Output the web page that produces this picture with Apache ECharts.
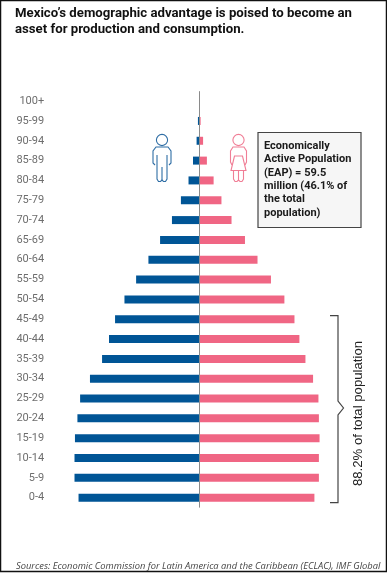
<!DOCTYPE html>
<html>
<head>
<meta charset="utf-8">
<title>Mexico population pyramid</title>
<script src="https://cdn.jsdelivr.net/npm/echarts@6/dist/echarts.min.js"></script>
<style>
html,body{margin:0;padding:0;background:#fff;}
#main{width:387px;height:573px;}
</style>
</head>
<body>
<div id="main"></div>
<script>
// age groups, youngest first (category axis draws from the bottom up)
var ageGroups=["0-4","5-9","10-14","15-19","20-24","25-29","30-34","35-39","40-44","45-49","50-54","55-59","60-64","65-69","70-74","75-79","80-84","85-89","90-94","95-99","100+"];
// population in millions
var maleValues=[5.40,5.58,5.58,5.56,5.45,5.33,4.89,4.35,4.04,3.77,3.35,2.83,2.28,1.76,1.23,0.83,0.49,0.29,0.13,0.07,0.01];
var femaleValues=[5.13,5.33,5.33,5.36,5.33,5.31,5.07,4.73,4.46,4.24,3.79,3.19,2.59,2.03,1.43,0.98,0.63,0.33,0.16,0.05,0.01];

var titleLines=["Mexico\u2019s demographic advantage is poised to become an","asset for production and consumption."];
var boxLines=["Economically","Active Population","(EAP) = 59.5","million (46.1% of","the total","population)"];
var bracketText="88.2% of total population";
var sourceText="Sources: Economic Commission for Latin America and the Caribbean (ECLAC), IMF Global";

var blue="#005596";
var pink="#f06684";
var titleFont='"Roboto"';

var chart=echarts.init(document.getElementById("main"));

var graphics=[];
// outer frame
graphics.push({type:"rect",shape:{x:0.5,y:0.5,width:386,height:571},style:{fill:"none",stroke:"#111",lineWidth:1.5}});
// title
for(var i=0;i<titleLines.length;i++){
	graphics.push({type:"text",x:15,y:7+i*16,style:{text:titleLines[i],fill:"#111",font:'bold 13.2px '+titleFont}});
}
// male icon
var maleStroke="#2f6ea5";
graphics.push({type:"circle",shape:{cx:162,cy:140,r:5.6},style:{fill:"none",stroke:maleStroke,lineWidth:1.1}});
graphics.push({type:"polyline",shape:{points:[[155,165],[153,163],[153,151],[156,147],[168,147],[171,151],[171,163],[169,165]]},style:{fill:"none",stroke:maleStroke,lineWidth:1.1}});
graphics.push({type:"polyline",shape:{points:[[157,155],[157,179],[158.5,181.5],[160.5,181.5],[162,180],[163.5,181.5],[165.5,181.5],[167,179],[167,155]]},style:{fill:"none",stroke:maleStroke,lineWidth:1.1}});
graphics.push({type:"line",shape:{x1:162,y1:167,x2:162,y2:180},style:{stroke:maleStroke,lineWidth:1.1}});
// female icon
var femaleStroke="#f07e96";
graphics.push({type:"circle",shape:{cx:238.5,cy:140,r:5.6},style:{fill:"none",stroke:femaleStroke,lineWidth:1.1}});
graphics.push({type:"polyline",shape:{points:[[232,165],[230.5,162],[230.5,151],[233,147],[244,147],[246.5,151],[246.5,162],[245,165]]},style:{fill:"none",stroke:femaleStroke,lineWidth:1.1}});
graphics.push({type:"polygon",shape:{points:[[234.5,156],[231,170.5],[246,170.5],[242.5,156]]},style:{fill:"none",stroke:femaleStroke,lineWidth:1.1}});
graphics.push({type:"polyline",shape:{points:[[233.5,171],[233.5,179],[235,181.5],[237,181.5],[238.5,180],[240,181.5],[242,181.5],[243.5,179],[243.5,171]]},style:{fill:"none",stroke:femaleStroke,lineWidth:1.1}});
graphics.push({type:"line",shape:{x1:238.5,y1:171,x2:238.5,y2:180},style:{stroke:femaleStroke,lineWidth:1.1}});
// EAP box
graphics.push({type:"rect",shape:{x:258,y:132.5,width:103,height:95},style:{fill:"#f6f6f6",stroke:"#444",lineWidth:1.2}});
for(var j=0;j<boxLines.length;j++){
	graphics.push({type:"text",x:264,y:140.5+j*13.4,style:{text:boxLines[j],fill:"#1a1a1a",font:'bold 11px '+titleFont}});
}
// bracket
graphics.push({type:"polyline",shape:{points:[[330,315.7],[338,315.7],[338,401],[343.5,408],[338,415],[338,502.7],[330,502.7]]},style:{fill:"none",stroke:"#444",lineWidth:1.2}});
graphics.push({type:"text",x:358.5,y:413.5,rotation:Math.PI/2,style:{text:bracketText,fill:"#222",font:'13.2px "Liberation Sans"',align:"center",verticalAlign:"middle"}});
// source line, cut at the frame as in the original
graphics.push({type:"text",x:16,y:562,style:{text:sourceText,fill:"#444",font:'italic 9.35px "Open Sans"'}});

var option={
	backgroundColor:"#ffffff",
	animation:false,
	grid:{left:47.18,width:304.64,top:91.2,height:416.4,containLabel:false},
	xAxis:{
		type:"value",
		min:-6.8,
		max:6.8,
		show:false
	},
	yAxis:{
		type:"category",
		data:ageGroups,
		position:"left",
		axisLine:{show:false},
		axisTick:{show:false},
		splitLine:{show:false},
		axisLabel:{color:"#6e6e6e",fontSize:11,fontFamily:"Roboto",margin:3,align:"right",interval:0}
	},
	series:[
		{
			name:"Male",
			type:"bar",
			stack:"total",
			barWidth:8,
			itemStyle:{color:blue},
			data:maleValues.map(function(v){return -v;}),
			markLine:{
				silent:true,
				symbol:"none",
				label:{show:false},
				lineStyle:{color:"#8a8a8a",type:"solid",width:1},
				data:[{xAxis:0}]
			}
		},
		{
			name:"Female",
			type:"bar",
			stack:"total",
			barWidth:8,
			itemStyle:{color:pink},
			data:femaleValues
		}
	],
	graphic:graphics
};
chart.setOption(option);
</script>
</body>
</html>
